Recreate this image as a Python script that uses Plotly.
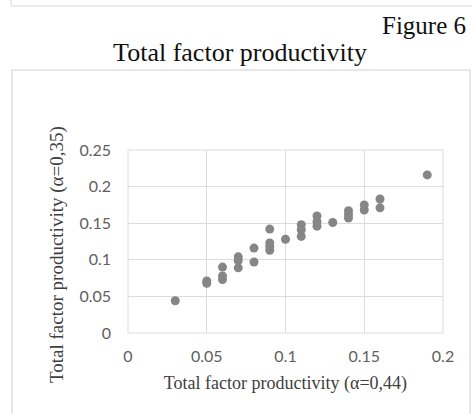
import plotly.graph_objects as go

# Total factor productivity under two capital-share assumptions
tfp_alpha_044 = [0.03,
                 0.05, 0.05,
                 0.06, 0.06, 0.06,
                 0.07, 0.07, 0.07,
                 0.08, 0.08,
                 0.09, 0.09, 0.09, 0.09,
                 0.10,
                 0.11, 0.11, 0.11,
                 0.12, 0.12, 0.12,
                 0.13,
                 0.14, 0.14, 0.14,
                 0.15, 0.15,
                 0.16, 0.16,
                 0.19]
tfp_alpha_035 = [0.044,
                 0.071, 0.068,
                 0.090, 0.078, 0.073,
                 0.104, 0.099, 0.089,
                 0.116, 0.097,
                 0.142, 0.123, 0.118, 0.113,
                 0.128,
                 0.148, 0.141, 0.132,
                 0.160, 0.152, 0.146,
                 0.151,
                 0.167, 0.162, 0.157,
                 0.175, 0.168,
                 0.183, 0.171,
                 0.216]

x_ticks = [0, 0.05, 0.1, 0.15, 0.2]
x_tick_text = ["0", "0.05", "0.1", "0.15", "0.2"]
y_ticks = [0, 0.05, 0.1, 0.15, 0.2, 0.25]
y_tick_text = ["0", "0.05", "0.1", "0.15", "0.2", "0.25"]

W, H = 476, 414
L, R, T, B = 128, 33, 150, 81
PW, PH = W - L - R, H - T - B


def px_x(p):
    return (p - L) / PW


def px_y(p):
    return (H - B - p) / PH


fig = go.Figure(go.Scatter(
    x=tfp_alpha_044, y=tfp_alpha_035, mode="markers",
    marker=dict(size=9, color="#868686", line=dict(width=0)),
    showlegend=False,
))

grid = "#dcdcdc"
serif = "Liberation Serif, Times New Roman, serif"
tick_font = dict(family="Lato, Open Sans, sans-serif", size=16, color="#606060")
title_font = dict(family=serif, size=18, color="#404040")

fig.update_xaxes(range=[0, 0.2], tickvals=x_ticks, ticktext=x_tick_text,
                 showgrid=True, gridcolor=grid, gridwidth=1, zeroline=False,
                 showline=False, ticks="", ticklabelstandoff=12,
                 tickfont=tick_font,
                 title=dict(text="Total factor productivity (α=0,44)",
                            font=title_font, standoff=12))
fig.update_yaxes(range=[0, 0.25], tickvals=y_ticks, ticktext=y_tick_text,
                 showgrid=True, gridcolor=grid, gridwidth=1, zeroline=False,
                 showline=False, ticks="", ticklabelstandoff=16,
                 tickfont=tick_font)

shapes = [
    # chart frame
    dict(type="rect", xref="paper", yref="paper",
         x0=px_x(12), x1=px_x(470), y0=px_y(430), y1=px_y(70),
         line=dict(color="#e8e8e8", width=2), fillcolor="rgba(0,0,0,0)", layer="below"),
    # plot area border
    dict(type="rect", xref="paper", yref="paper", x0=0, x1=1, y0=0, y1=1,
         line=dict(color=grid, width=1), layer="below"),
    # edge of the frame above
    dict(type="line", xref="paper", yref="paper",
         x0=px_x(11), x1=px_x(472), y0=px_y(6), y1=px_y(6),
         line=dict(color="#ececec", width=2)),
    dict(type="line", xref="paper", yref="paper",
         x0=px_x(11), x1=px_x(11), y0=px_y(-5), y1=px_y(6),
         line=dict(color="#ececec", width=2)),
]

fig.update_layout(
    width=W, height=H,
    margin=dict(l=L, r=R, t=T, b=B, autoexpand=False),
    paper_bgcolor="white", plot_bgcolor="white",
    title=dict(text="Total factor productivity", xref="container", yref="container",
               x=240 / W, xanchor="center", y=1 - 52 / H, yanchor="middle",
               font=dict(family=serif, size=26, color="#111111")),
    annotations=[
        dict(text="Figure 6", xref="paper", yref="paper",
             x=px_x(468), xanchor="right", y=px_y(26), yanchor="middle",
             showarrow=False, font=dict(family=serif, size=25, color="#111111")),
        # vertical axis title
        dict(text="Total factor productivity (α=0,35)", xref="paper", yref="paper",
             x=px_x(57), xanchor="center", y=px_y(255), yanchor="middle",
             textangle=-90, showarrow=False,
             font=dict(family=serif, size=19, color="#404040")),
    ],
    shapes=shapes,
)

fig.write_html("out.html")
